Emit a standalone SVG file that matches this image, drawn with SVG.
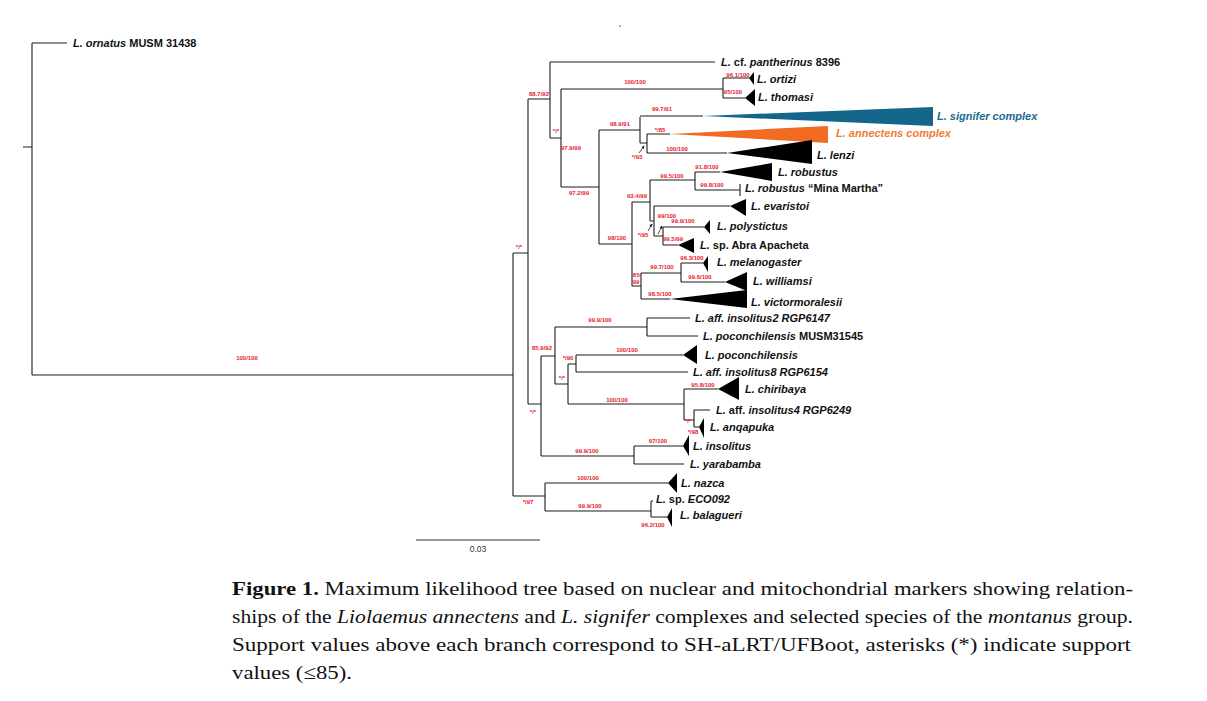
<svg xmlns="http://www.w3.org/2000/svg" width="1207" height="701" viewBox="0 0 1207 701">
<style>
.br{stroke:#1c1c1c;stroke-width:1.1;fill:none}
.lab{font-family:"Liberation Sans",Arial,sans-serif;font-weight:bold;font-size:11px;fill:#111}
.i{font-style:italic}
.s{font-family:"Liberation Sans",Arial,sans-serif;font-weight:bold;font-size:6px;fill:#e8202a;text-anchor:middle}
.tri{fill:#000}
.cap{font-family:"Liberation Serif","Times New Roman",serif;font-size:19.5px;fill:#111}
.ar{stroke:#222;stroke-width:0.8;fill:none;marker-end:url(#ah)}
</style>
<defs>
<marker id="ah" viewBox="0 0 6 6" refX="5" refY="3" markerWidth="4" markerHeight="4" orient="auto"><path d="M0,0 L6,3 L0,6 z" fill="#222"/></marker>
</defs>
<rect width="1207" height="701" fill="#fff"/>
<rect x="619" y="25.5" width="2" height="1" fill="#e8202a"/>

<g id="connectors">
<path class="br" d="M23,147H32 M32,43V375 M32,43H67 M32,375H513 M513,253V496 M513,253H528 M528,99V404 M528,99H550 M550,62V138 M550,62H715 M550,138H561 M561,89V187 M561,89H723 M723,78V98 M723,78H749 M723,98H745 M561,187H599 M599,130V244 M599,130H640 M640,117V143 M640,116H703 M640,143H647 M647,134V153 M647,134H670 M647,153H727 M599,244H632 M632,202V286 M632,202H650 M650,180V221 M650,180H695 M695,172V190 M695,172H720 M695,190H740 M740,184V196 M650,221H654 M654,206V236 M654,206H730 M654,236H663 M663,227V245 M663,227H704 M663,245H678 M632,286H641 M641,273V299 M641,273H681 M681,263V282 M681,263H703 M681,282H725 M641,299H670 M528,404H541 M541,356V456 M541,356H555 M555,327V384 M555,327H647 M647,318V336 M647,318H690 M647,336H698 M555,384H568 M568,364V404 M568,364H576 M576,355V372 M576,355H683 M576,372H688 M568,404H684 M684,389V420 M684,389H718 M684,420H694 M694,410V427 M694,410H710 M694,427H699 M541,456H634 M634,446V464 M634,446H683 M634,464H684 M513,496H545 M545,483V511 M545,483H668 M545,511H651 M651,501V517 M651,501H653 M651,517H667"/>
<path class="ar" d="M639,153L644,146"/>
<path class="ar" d="M648,231L652,224"/>
<path class="ar" d="M658,234L662,226"/>
</g>

<g id="supports">
<text class="s" x="247" y="360">100/100</text>
<text class="s" x="519" y="249">*/*</text>
<text class="s" x="539" y="96">88.7/92</text>
<text class="s" x="556" y="133">*/*</text>
<text class="s" x="635" y="84">100/100</text>
<text class="s" x="738" y="77">96.1/100</text>
<text class="s" x="733" y="94">95/100</text>
<text class="s" x="571" y="150">97.9/99</text>
<text class="s" x="579" y="195">97.2/99</text>
<text class="s" x="620" y="126">98.9/91</text>
<text class="s" x="662" y="111">99.7/91</text>
<text class="s" x="660" y="132">*/85</text>
<text class="s" x="637" y="159">*/93</text>
<text class="s" x="677" y="151">100/100</text>
<text class="s" x="707" y="169">91.8/100</text>
<text class="s" x="672" y="178">99.5/100</text>
<text class="s" x="712" y="187">99.8/100</text>
<text class="s" x="637" y="198">93.4/99</text>
<text class="s" x="617" y="240">98/100</text>
<text class="s" x="643" y="237">*/95</text>
<text class="s" x="667" y="218">99/100</text>
<text class="s" x="683" y="223">99.9/100</text>
<text class="s" x="673" y="241">99.5/99</text>
<text class="s" x="692" y="260">96.3/100</text>
<text class="s" x="662" y="269">99.7/100</text>
<text class="s" x="700" y="279">99.6/100</text>
<text class="s" x="637" y="277">85/</text>
<text class="s" x="636" y="284">99</text>
<text class="s" x="660" y="296">98.5/100</text>
<text class="s" x="600" y="322">99.9/100</text>
<text class="s" x="542" y="350">85.9/92</text>
<text class="s" x="568" y="360">*/90</text>
<text class="s" x="562" y="380">*/*</text>
<text class="s" x="627" y="352">100/100</text>
<text class="s" x="533" y="414">*/*</text>
<text class="s" x="703" y="387">95.8/100</text>
<text class="s" x="617" y="402">100/100</text>
<text class="s" x="688" y="423">*/*</text>
<text class="s" x="693" y="434">*/98</text>
<text class="s" x="587" y="453">99.9/100</text>
<text class="s" x="658" y="443">97/100</text>
<text class="s" x="528" y="504">*/97</text>
<text class="s" x="588" y="480">100/100</text>
<text class="s" x="590" y="508">99.9/100</text>
<text class="s" x="653" y="527">96.2/100</text>
</g>

<g id="n-ornatus"><text class="lab" x="73" y="47"><tspan class="i">L. ornatus</tspan> MUSM 31438</text></g>
<g id="n-pantherinus"><text class="lab" x="721" y="66"><tspan class="i">L.</tspan> cf. <tspan class="i">pantherinus</tspan> 8396</text></g>
<g id="n-ortizi"><polygon class="tri" points="749,78 754,72 754,85"/><text class="lab i" x="757" y="83">L. ortizi</text></g>
<g id="n-thomasi"><polygon class="tri" points="745,98 755,89 755,106"/><text class="lab i" x="758" y="101">L. thomasi</text></g>
<g id="n-signifer"><polygon points="703,116 933,107 933,126" fill="#13668a"/><text class="lab i" x="937" y="120" style="fill:#1a6a8e">L. signifer complex</text></g>
<g id="n-annectens"><polygon points="670,134 828,126 828,143" fill="#f36b21"/><text class="lab i" x="836" y="137" style="fill:#f07a30">L. annectens complex</text></g>
<g id="n-lenzi"><polygon class="tri" points="727,153 812,140 812,164"/><text class="lab i" x="817" y="159">L. lenzi</text></g>
<g id="n-robustus"><polygon class="tri" points="720,172 772,163 772,181"/><text class="lab i" x="778" y="176">L. robustus</text></g>
<g id="n-minamartha"><text class="lab" x="745" y="192"><tspan class="i">L. robustus</tspan> “Mina Martha”</text></g>
<g id="n-evaristoi"><polygon class="tri" points="730,206 746,199 746,216"/><text class="lab i" x="751" y="210">L. evaristoi</text></g>
<g id="n-polystictus"><polygon class="tri" points="704,227 710,220 710,234"/><text class="lab i" x="717" y="230">L. polystictus</text></g>
<g id="n-abra"><polygon class="tri" points="678,245 694,238 694,253"/><text class="lab" x="700" y="249"><tspan class="i">L.</tspan> sp. Abra Apacheta</text></g>
<g id="n-melanogaster"><polygon class="tri" points="703,263 708,256 708,272"/><text class="lab i" x="717" y="266">L. melanogaster</text></g>
<g id="n-williamsi"><polygon class="tri" points="725,282 747,272 747,291"/><text class="lab i" x="753" y="285">L. williamsi</text></g>
<g id="n-victormoralesii"><polygon class="tri" points="670,299 747,290 747,308"/><text class="lab i" x="751" y="306">L. victormoralesii</text></g>
<g id="n-insolitus2"><text class="lab i" x="695" y="322">L. aff. insolitus2 RGP6147</text></g>
<g id="n-poconMUSM"><text class="lab" x="703" y="340"><tspan class="i">L. poconchilensis</tspan> MUSM31545</text></g>
<g id="n-poconchilensis"><polygon class="tri" points="683,355 697,345 697,364"/><text class="lab i" x="705" y="359">L. poconchilensis</text></g>
<g id="n-insolitus8"><text class="lab i" x="693" y="376">L. aff. insolitus8 RGP6154</text></g>
<g id="n-chiribaya"><polygon class="tri" points="718,389 739,377 739,400"/><text class="lab i" x="745" y="393">L. chiribaya</text></g>
<g id="n-insolitus4"><text class="lab" x="716" y="414"><tspan class="i">L.</tspan> aff. <tspan class="i">insolitus4 RGP6249</tspan></text></g>
<g id="n-anqapuka"><polygon class="tri" points="699,427 704,418 704,438"/><text class="lab i" x="710" y="431">L. anqapuka</text></g>
<g id="n-insolitus"><polygon class="tri" points="683,446 689,435 689,456"/><text class="lab i" x="693" y="450">L. insolitus</text></g>
<g id="n-yarabamba"><text class="lab i" x="690" y="468">L. yarabamba</text></g>
<g id="n-nazca"><polygon class="tri" points="668,483 677,473 677,493"/><text class="lab i" x="681" y="487">L. nazca</text></g>
<g id="n-eco092"><text class="lab" x="656" y="503"><tspan class="i">L.</tspan> sp. <tspan class="i">ECO092</tspan></text></g>
<g id="n-balagueri"><polygon class="tri" points="667,517 672,508 672,527"/><text class="lab i" x="680" y="519">L. balagueri</text></g>

<g id="scalebar">
<path d="M416,540H540" stroke="#333" stroke-width="1"/>
<text x="478" y="552" text-anchor="middle" style="font-family:'Liberation Sans',Arial,sans-serif;font-size:8.5px;fill:#333">0.03</text>
</g>

<g id="caption">
<text class="cap" x="232" y="595" textLength="901" lengthAdjust="spacingAndGlyphs"><tspan font-weight="bold">Figure 1.</tspan> Maximum likelihood tree based on nuclear and mitochondrial markers showing relation-</text>
<text class="cap" x="232" y="623" textLength="901" lengthAdjust="spacingAndGlyphs">ships of the <tspan font-style="italic">Liolaemus annectens</tspan> and <tspan font-style="italic">L. signifer</tspan> complexes and selected species of the <tspan font-style="italic">montanus</tspan> group.</text>
<text class="cap" x="232" y="651" textLength="899" lengthAdjust="spacingAndGlyphs">Support values above each branch correspond to SH-aLRT/UFBoot, asterisks (*) indicate support</text>
<text class="cap" x="232" y="679" textLength="120" lengthAdjust="spacingAndGlyphs">values (≤85).</text>
</g>
</svg>
